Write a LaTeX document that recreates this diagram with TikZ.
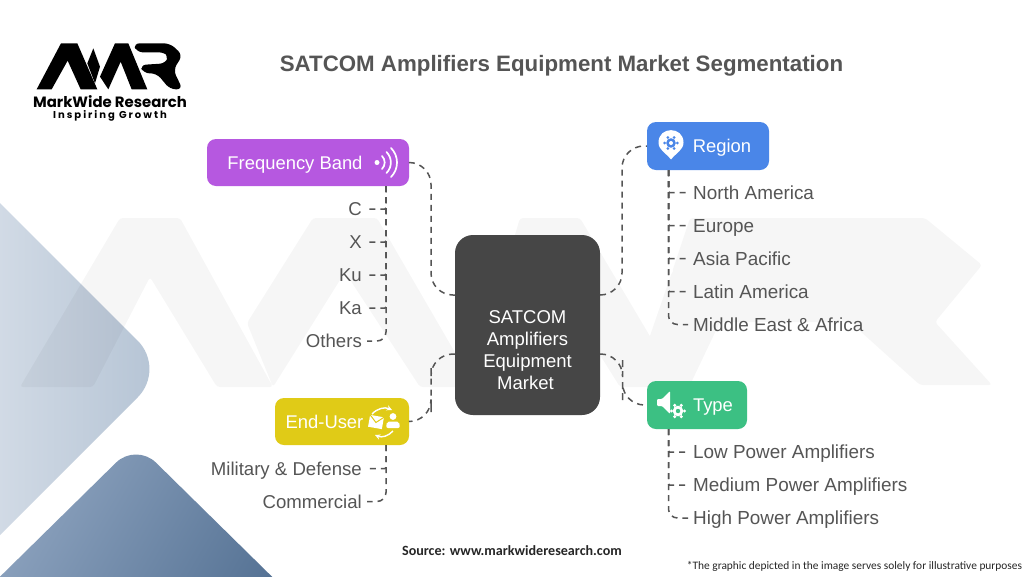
\documentclass[tikz,border=0pt]{standalone}
\usepackage{fontspec}
\setmainfont{Liberation Sans}
\newfontfamily\logofont{Poppins}
\newfontfamily\logospaced[LetterSpace=20]{Poppins}
\newfontfamily\notefont{Carlito}
\definecolor{hubgray}{HTML}{464646}
\definecolor{leafgray}{HTML}{555555}
\definecolor{freqpurple}{HTML}{B658E0}
\definecolor{regionblue}{HTML}{4A86E8}
\definecolor{typegreen}{HTML}{3CC083}
\definecolor{useryellow}{HTML}{E0CB17}
\definecolor{paleleft}{HTML}{D6DEE8}
\definecolor{paleright}{HTML}{B4C3D4}
\definecolor{deepleft}{HTML}{93A8C3}
\definecolor{deepright}{HTML}{557294}
\begin{document}
\begin{tikzpicture}[x=1pt,y=-1pt]
     \tikzstyle{catbox}=[rounded corners=9pt, text=white, inner sep=0pt, text height=13.4pt, text depth=0pt, font=\fontsize{18.4}{22}\selectfont]
     \tikzstyle{hubnode}=[fill=hubgray, rounded corners=18pt, text=white, align=center, inner sep=0pt, minimum width=145pt, minimum height=180pt, font=\fontsize{18.5}{22}\selectfont]
     \tikzstyle{leafleft}=[anchor=east, text=leafgray, inner sep=5pt, text height=13.4pt, text depth=0pt, font=\fontsize{18.6}{22}\selectfont]
     \tikzstyle{leafright}=[anchor=west, text=leafgray, inner sep=5pt, text height=13.4pt, text depth=0pt, font=\fontsize{18.9}{22}\selectfont]
     \tikzstyle{linkline}=[draw=leafgray, line width=1.5pt, dash pattern=on 6pt off 5pt]
     \tikzstyle{iconline}=[draw=white, line width=1.7pt, line cap=round]
     \useasboundingbox (0,0) rectangle (1024,576);
     \fill[white] (0,0) rectangle (1024,576);
     \begin{scope}
      \clip (0,0) rectangle (1024,576);
      \shade[left color=paleleft, right color=paleright, rounded corners=40pt]
        (-30,173) -- (166,369) -- (-30,565) -- cycle;
      \shade[left color=deepleft, right color=deepright, shading angle=60, rounded corners=28pt]
        (-40,616) -- (136,443) -- (312,616) -- cycle;
      \fill[black, opacity=0.035, rounded corners=3pt]
        (20,387) -- (120,218) -- (180,218) -- (273,387) -- (217,387) -- (150,277) -- (93,387) -- cycle
        (247,323) -- (313,218) -- (377,218) -- (475,387) -- (420,387) -- (345,272) -- (273,387) -- cycle
        (470,387) -- (520,218) -- (580,218) -- (680,387) -- (620,387) -- (550,275) -- (505,387) -- cycle
        (633,385) -- (672,272) -- (705,247) -- (900,247) -- (915,280) -- (870,313) -- (712,313) -- (672,272) -- (690,218) -- (925,218) -- (982,265) -- (935,322) -- (992,385) -- (920,385) -- (850,322) -- (720,322) -- (690,385) -- cycle;
     \end{scope}
     \begin{scope}[shift={(0,20)},x=0.3333pt,y=-0.3333pt]
      \fill[black] (110,208) -- (183,70) -- (232,70) -- (292,208) -- (242,208) -- (203,122) -- (155,208) -- cycle;
      \fill[black] (280,85) -- (300,140) -- (285,190) -- (262,130) -- cycle;
      \fill[black] (300,170) -- (345,70) -- (385,70) -- (442,208) -- (395,208) -- (362,125) -- (325,208) -- cycle;
      \fill[black, rounded corners=6pt] (400,70) -- (510,70) -- (548,105) -- (520,150) -- (548,208) -- (510,208) -- (470,160) -- (430,160) -- (420,135) -- (498,130) -- (505,108) -- (495,97) -- (410,97) -- cycle;
     \end{scope}
     \node[font=\logofont\bfseries\fontsize{14.9}{16}\selectfont, inner sep=0pt] (brand) at (110,102) {MarkWide Research};
     \node[font=\logospaced\bfseries\fontsize{10}{11}\selectfont, inner sep=0pt] (motto) at (110,115.5) {Inspiring Growth};
     \node[font=\bfseries\fontsize{22.3}{26}\selectfont, text=leafgray, inner sep=0pt, text height=16pt, text depth=0pt] (title) at (561.5,63.5) {SATCOM Amplifiers Equipment Market Segmentation};

     \node[hubnode] (hub) at (527.5,325) {\mbox{}\\[42pt]SATCOM\hspace*{4pt}\\Amplifiers\hspace*{4pt}\\Equipment\hspace*{4pt}\\Market\hspace*{4pt}};
     \node[catbox, fill=freqpurple, minimum width=202pt, minimum height=47pt] (freq) at (308,162.5) {Frequency Band\hspace*{26pt}};
     \node[catbox, fill=regionblue, minimum width=122pt, minimum height=48pt] (region) at (708,146) {\hspace*{28pt}Region};
     \node[catbox, fill=typegreen, minimum width=100pt, minimum height=48pt] (type) at (697,405) {\hspace*{32pt}Type};
     \node[catbox, fill=useryellow, minimum width=134pt, minimum height=47pt] (user) at (342,421.5) {End-User\hspace*{35pt}};

     \node[leafleft] (c) at (367,209) {C};
     \node[leafleft] (x) at (367,242) {X};
     \node[leafleft] (ku) at (367,275) {Ku};
     \node[leafleft] (ka) at (367,308) {Ka};
     \node[leafleft] (others) at (367,341) {Others};
     \node[leafright] (north) at (688,192.5) {North America};
     \node[leafright] (europe) at (688,225.5) {Europe};
     \node[leafright] (asia) at (688,258.5) {Asia Pacific};
     \node[leafright] (latin) at (688,291.5) {Latin America};
     \node[leafright] (middle) at (688,324.5) {Middle East \& Africa};
     \node[leafright] (low) at (688,452) {Low Power Amplifiers};
     \node[leafright] (medium) at (688,485) {Medium Power Amplifiers};
     \node[leafright] (high) at (688,518) {High Power Amplifiers};
     \node[leafleft] (military) at (367,468.5) {Military \& Defense};
     \node[leafleft] (commercial) at (367,501.5) {Commercial};

     \coordinate (hubnw) at (455,295);
     \coordinate (hubne) at (600,295);
     \coordinate (hubsw) at (455,354);
     \coordinate (hubse) at (600,354);
     \coordinate (freqfoot) at (386,186);
     \coordinate (regionfoot) at (668.5,170);
     \coordinate (typefoot) at (668.5,429);
     \coordinate (userfoot) at (386,445);

     \draw[linkline, rounded corners=22pt] (freq.east) -| (431,228) |- (hubnw);
     \draw[linkline, rounded corners=22pt] (hubne) -| (622,228) |- (region.west);
     \draw[linkline, rounded corners=22pt] (hubsw) -| (431,390) |- (user.east);
     \draw[linkline, rounded corners=22pt] (hubse) -| (622.5,380) |- (type.west);

     \foreach \leaf in {c,x,ku,ka} {
      \draw[linkline, rounded corners=1pt] (freqfoot) |- (\leaf.east);
     }
     \draw[linkline, rounded corners=9pt] (freqfoot) |- (others.east);
     \foreach \leaf in {north,europe,asia,latin} {
      \draw[linkline, rounded corners=1pt] (regionfoot) |- (\leaf.west);
     }
     \draw[linkline, rounded corners=9pt] (regionfoot) |- (middle.west);
     \foreach \leaf in {low,medium} {
      \draw[linkline, rounded corners=1pt] (typefoot) |- (\leaf.west);
     }
     \draw[linkline, rounded corners=9pt] (typefoot) |- (high.west);
     \draw[linkline, rounded corners=1pt] (userfoot) |- (military.east);
     \draw[linkline, rounded corners=9pt] (userfoot) |- (commercial.east);

     \fill[white] (377,162.5) circle (2.5pt);
     \draw[iconline] (382,156) to[bend left=45] (382,169);
     \draw[iconline] (386.5,152) to[bend left=45] (386.5,173);
     \draw[iconline] (391,148) to[bend left=45] (391,177);

     \fill[white] (671,159.5) .. controls (666,153) and (658.5,150) .. (658.5,142.5) .. controls (658.5,126) and (683.5,126) .. (683.5,142.5) .. controls (683.5,150) and (676,153) .. (671,159.5) -- cycle;
     \fill[regionblue] (671,143) circle (4.8pt);
     \foreach \ang in {0,60,...,300} {
      \fill[regionblue] (671,143) ++(\ang:6.3) circle (1.5pt);
     }
     \fill[white] (671,143) circle (2pt);

     \fill[white, rounded corners=1pt] (657,399) -- (662,399) -- (670,391) -- (670,414) -- (662,406) -- (657,406) -- cycle;
     \fill[white] (678,411) circle (5.3pt);
     \foreach \ang in {0,60,...,300} {
      \fill[white] (678,411) ++(\ang:6.5) circle (1.7pt);
     }
     \fill[typegreen] (678,411) circle (2.2pt);

     \fill[white, rotate around={-10:(376,422)}] (369,416) rectangle (383,428);
     \draw[useryellow, line width=1pt, rotate around={-10:(376,422)}] (369,416) -- (376,422.5) -- (383,416);
     \fill[white] (393,416.5) circle (3.4pt);
     \fill[white, rounded corners=2pt] (386,428) -- (387,421.5) -- (399,421.5) -- (400,428) -- cycle;
     \draw[white, line width=1.4pt, ->, >=stealth] (372,414) to[bend left=35] (392,410);
     \draw[white, line width=1.4pt, ->, >=stealth] (393,431) to[bend left=35] (375,435);

     \node[font=\notefont\bfseries\fontsize{14.1}{16}\selectfont, inner sep=0pt, text=black!85] (source) at (512,551) {Source: www.markwideresearch.com};
     \node[font=\notefont\fontsize{11.4}{14}\selectfont, inner sep=0pt, text=black!85] (note) at (854.5,566.5) {*The graphic depicted in the image serves solely for illustrative purposes};
    \end{tikzpicture}
\end{document}
